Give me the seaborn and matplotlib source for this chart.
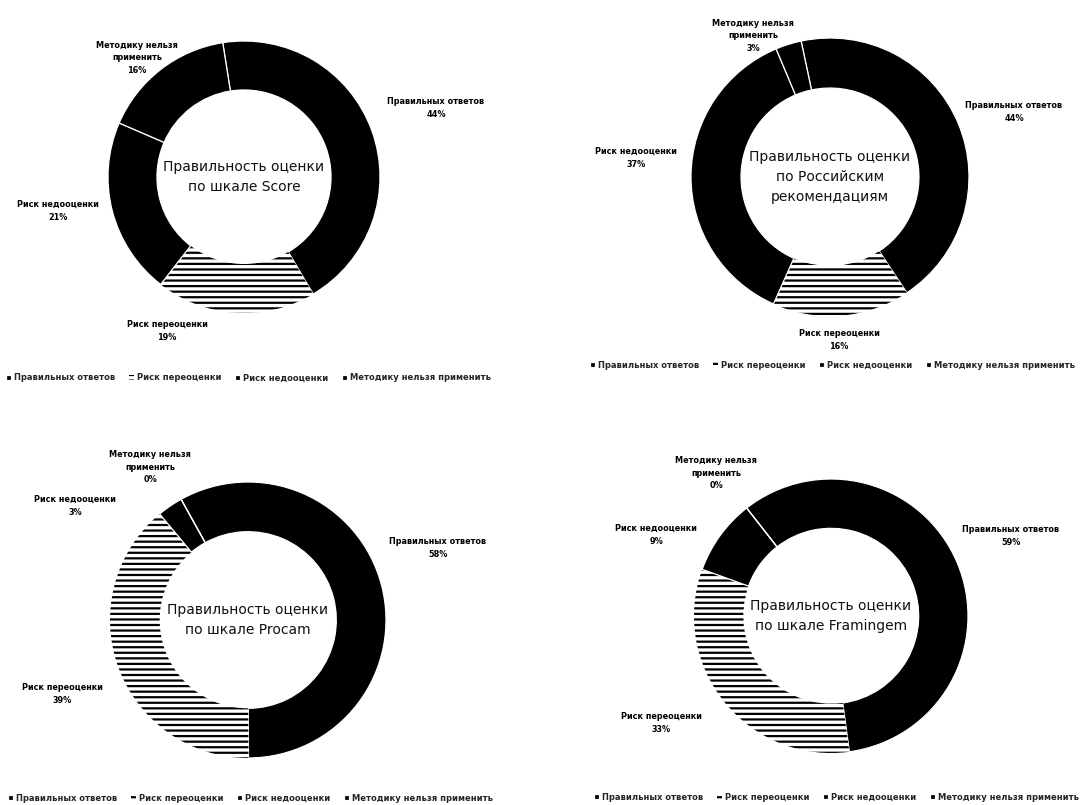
import matplotlib
matplotlib.use("Agg")
import matplotlib.pyplot as plt
import seaborn as sns

sns.set_theme(style="white")
plt.rcParams["font.family"] = ["DejaVu Sans"]
plt.rcParams["hatch.linewidth"] = 1.6

# Categories shared by all four donuts
categories = ["Правильных ответов", "Риск переоценки", "Риск недооценки",
              "Методику нельзя применить"]
label_texts = ["Правильных ответов", "Риск переоценки", "Риск недооценки",
               "Методику нельзя\nприменить"]

# Percent of answers per scale
score_values = [44, 19, 21, 16]
russian_values = [44, 16, 37, 3]
procam_values = [58, 39, 3, 0]
framingham_values = [59, 33, 9, 0]

titles = [
    "Правильность оценки\nпо шкале Score",
    "Правильность оценки\nпо Российским\nрекомендациям",
    "Правильность оценки\nпо шкале Procam",
    "Правильность оценки\nпо шкале Framingem",
]
all_values = [score_values, russian_values, procam_values, framingham_values]

W, H = 1092, 805
fig = plt.figure(figsize=(W / 100, H / 100), dpi=100)
fig.patch.set_facecolor("white")

# Layout per panel: donut centre / radius in pixels, start angle,
# label anchor points (pixels) and legend anchor.
panels = [
    dict(c=(244, 177), r=136, start=99,
         labels=[(436, 108), (167, 331), (58, 211), (137, 58)],
         legend=(6, 378)),
    dict(c=(830, 177), r=139, start=102,
         labels=[(1014, 112), (839, 340), (636, 158), (753, 36)],
         legend=(590, 365)),
    dict(c=(248, 620), r=138, start=119,
         labels=[(438, 548), (62, 694), (75, 506), (150, 467)],
         legend=(8, 798)),
    dict(c=(831, 616), r=137, start=128,
         labels=[(1011, 536), (661, 723), (656, 535), (716, 473)],
         legend=(594, 797)),
]

for vals, title, p in zip(all_values, titles, panels):
    cx, cy = p["c"]
    r = p["r"]
    ax = fig.add_axes([(cx - r) / W, 1 - (cy + r) / H, 2 * r / W, 2 * r / H])
    wedges, _ = ax.pie(
        vals, startangle=p["start"], counterclock=False, radius=1.0,
        colors=["black"] * 4,
        wedgeprops=dict(width=0.36, edgecolor="white", linewidth=0.9),
    )
    # over-estimation slice is drawn as horizontal hatching
    hw = wedges[1]
    hw.set_facecolor("white")
    hw.set_edgecolor("black")
    hw.set_linewidth(0)
    hw.set_hatch("---")
    ax.set_xlim(-1, 1)
    ax.set_ylim(-1, 1)
    ax.axis("off")

    ax.text(0, 0, title, ha="center", va="center", fontsize=10,
            color="#111111", linespacing=1.5)

    for txt, v, (lx, ly) in zip(label_texts, vals, p["labels"]):
        fig.text(lx / W, 1 - ly / H, f"{txt}\n{v}%", ha="center", va="center",
                 fontsize=5.9, fontweight="bold", color="black",
                 linespacing=1.5)

    lx, ly = p["legend"]
    fig.legend(wedges, categories, loc="center left",
               bbox_to_anchor=(lx / W, 1 - ly / H), ncol=4, frameon=False,
               prop=dict(weight="bold", size=6.0),
               handlelength=0.6, handleheight=0.6, handletextpad=0.4,
               columnspacing=1.6, borderpad=0, borderaxespad=0)

fig.savefig("out.png", dpi=100, facecolor="white")
